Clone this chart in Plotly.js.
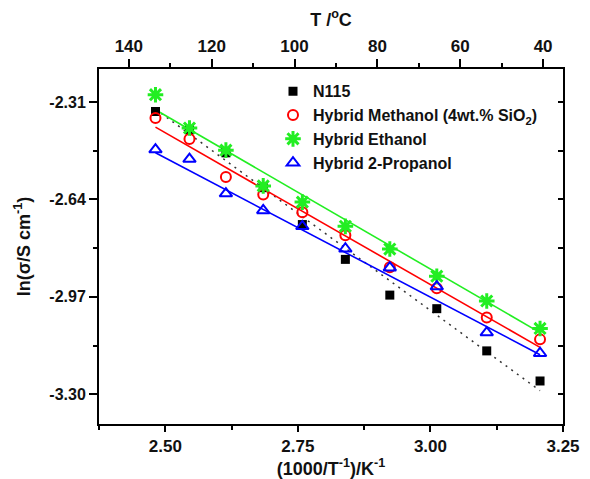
<!DOCTYPE html>
<html>
<head>
<meta charset="utf-8">
<script src="https://cdn.plot.ly/plotly-3.0.1.min.js"></script>
<style>html,body{margin:0;padding:0;background:#fff;}#chart{width:590px;height:479px;}</style>
</head>
<body>
<div id="chart"></div>
<script>
// 1000/T values (K^-1 scale) of the measurement points
const invT = [2.4815, 2.5456, 2.6143, 2.6847, 2.7585, 2.8396, 2.9234, 3.0120, 3.1062, 3.2067];

const n115     = [-2.342, -2.404, -2.482, -2.600, -2.725, -2.843, -2.964, -3.010, -3.153, -3.255];
const methanol = [-2.364, -2.435, -2.564, -2.623, -2.683, -2.761, -2.870, -2.941, -3.040, -3.114];
const ethanol  = [-2.285, -2.398, -2.473, -2.594, -2.649, -2.731, -2.808, -2.900, -2.984, -3.077];
const propanol = [-2.471, -2.503, -2.620, -2.677, -2.731, -2.807, -2.871, -2.935, -3.091, -3.161];

// fitted line end points
const fitX        = [2.4815, 3.2067];
const fitN115     = [-2.334, -3.288];
const fitMethanol = [-2.395, -3.141];
const fitEthanol  = [-2.336, -3.091];
const fitPropanol = [-2.482, -3.166];

const names = ['N115', 'Hybrid Methanol (4wt.% SiO<sub>2</sub>)', 'Hybrid Ethanol', 'Hybrid 2-Propanol'];

// tick labels
const yTickVals = [-2.31, -2.64, -2.97, -3.30];
const yTickText = ['-2.31', '-2.64', '-2.97', '-3.30'];
const yMinor = [-2.475, -2.805, -3.135];
const xTickVals = [2.50, 2.75, 3.00, 3.25];
const xTickText = ['2.50', '2.75', '3.00', '3.25'];
const xMinor = [2.375, 2.625, 2.875, 3.125];
const tTickVals = [140, 120, 100, 80, 60, 40];
const tTickText = ['140', '120', '100', '80', '60', '40'];
const tMinor = [130, 110, 90, 70, 50];

const GREEN = '#22ee22', RED = '#ff0000', BLUE = '#0000ff';
const FONT = 'Liberation Sans, Arial, sans-serif';

const traces = [
  {x: fitX, y: fitN115, mode: 'lines', line: {color: '#333', width: 1.5, dash: '2px,5px'}, showlegend: false, hoverinfo: 'skip'},
  {x: fitX, y: fitMethanol, mode: 'lines', line: {color: RED, width: 1.6}, showlegend: false, hoverinfo: 'skip'},
  {x: fitX, y: fitEthanol, mode: 'lines', line: {color: GREEN, width: 1.6}, showlegend: false, hoverinfo: 'skip'},
  {x: fitX, y: fitPropanol, mode: 'lines', line: {color: BLUE, width: 1.6}, showlegend: false, hoverinfo: 'skip'},
  {x: invT, y: n115, name: names[0], mode: 'markers', marker: {symbol: 'square', size: 9, color: '#000'}},
  {x: invT, y: methanol, name: names[1], mode: 'markers', marker: {symbol: 'circle-open', size: 10, color: RED, line: {width: 2, color: RED}}},
  {x: invT, y: ethanol, name: names[2], mode: 'markers', marker: {symbol: 'asterisk-open', size: 13, color: GREEN, line: {width: 3, color: GREEN}}},
  {x: invT, y: propanol, name: names[3], mode: 'markers', marker: {symbol: 'triangle-up-open', size: 11, color: BLUE, line: {width: 2, color: BLUE}}},
  // invisible helper so that the top (°C) and right axes are drawn
  {x: tTickVals.slice(0, 1), y: yTickVals.slice(0, 1), xaxis: 'x2', yaxis: 'y2', mode: 'markers',
   marker: {opacity: 0, size: 1}, showlegend: false, hoverinfo: 'skip'}
];

const yTickFont = {family: FONT, size: 16, color: '#111', weight: 'bold'};
const xTickFont = {family: FONT, size: 17, color: '#111', weight: 'bold'};
const titleFont = {family: FONT, size: 18, color: '#111', weight: 'bold'};

const layout = {
  width: 590, height: 479,
  margin: {l: 99, r: 27, t: 69, b: 55},
  paper_bgcolor: '#fff', plot_bgcolor: '#fff',
  showlegend: true,
  legend: {x: 0.375, y: 0.985, xanchor: 'left', yanchor: 'top', bgcolor: 'rgba(0,0,0,0)',
           font: {family: FONT, size: 16, color: '#111', weight: 'bold'}, tracegroupgap: 0},
  xaxis: {
    range: [2.375, 3.25], showgrid: false, zeroline: false,
    showline: true, linewidth: 2, linecolor: '#000',
    ticks: 'outside', ticklen: 6, tickwidth: 2, tickcolor: '#000',
    tickmode: 'array', tickvals: xTickVals, ticktext: xTickText, tickfont: xTickFont,
    minor: {tickmode: 'array', tickvals: xMinor, ticks: 'outside', ticklen: 4, tickwidth: 2, tickcolor: '#000', showgrid: false},
    title: {text: '(1000/T<sup>-1</sup>)/K<sup>-1</sup>', font: titleFont, standoff: 0}
  },
  xaxis2: {
    overlaying: 'x', side: 'top', anchor: 'y', range: [147.2, 35.2], showgrid: false, zeroline: false,
    showline: true, linewidth: 2, linecolor: '#000',
    ticks: 'outside', ticklen: 8, tickwidth: 2, tickcolor: '#000',
    tickmode: 'array', tickvals: tTickVals, ticktext: tTickText, tickfont: xTickFont,
    minor: {tickmode: 'array', tickvals: tMinor, ticks: 'outside', ticklen: 4, tickwidth: 2, tickcolor: '#000', showgrid: false},
    title: {text: 'T /<sup>o</sup>C', font: titleFont, standoff: 6}
  },
  yaxis: {
    range: [-3.4007, -2.198], showgrid: false, zeroline: false,
    showline: true, linewidth: 2, linecolor: '#000',
    ticks: 'outside', ticklen: 8, tickwidth: 2, tickcolor: '#000',
    tickmode: 'array', tickvals: yTickVals, ticktext: yTickText, tickfont: yTickFont,
    minor: {tickmode: 'array', tickvals: yMinor, ticks: 'outside', ticklen: 4, tickwidth: 2, tickcolor: '#000', showgrid: false},
    title: {text: 'ln(σ/S cm<sup>-1</sup>)', font: titleFont, standoff: 14}
  },
  yaxis2: {
    overlaying: 'y', side: 'right', anchor: 'x', range: [-3.4007, -2.198], showgrid: false, zeroline: false,
    showline: true, linewidth: 2, linecolor: '#000',
    ticks: 'inside', ticklen: 5, tickwidth: 2, tickcolor: '#000',
    tickmode: 'array', tickvals: yTickVals, showticklabels: false,
    minor: {tickmode: 'array', tickvals: yMinor, ticks: 'inside', ticklen: 5, tickwidth: 2, tickcolor: '#000', showgrid: false}
  }
};

Plotly.newPlot('chart', traces, layout, {staticPlot: true, displayModeBar: false});
</script>
</body>
</html>
